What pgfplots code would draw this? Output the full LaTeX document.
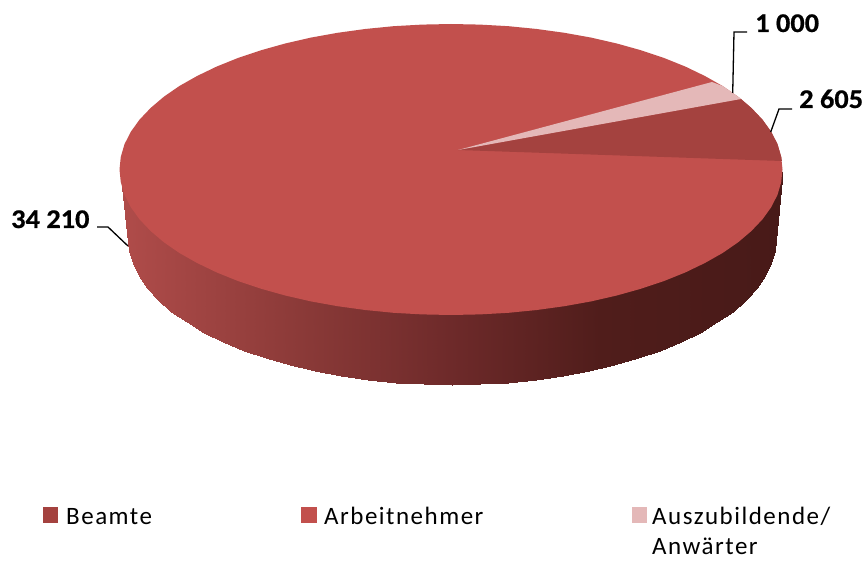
\documentclass[border=0pt]{standalone}
\usepackage{pgfplots}
\pgfplotsset{compat=1.18}
\usepackage{fontspec}
\setmainfont{Carlito}
\definecolor{topred}{RGB}{194,80,77}
\definecolor{beamte}{RGB}{164,66,63}
\definecolor{azubi}{RGB}{228,184,184}
\newcommand{\lab}{\fontsize{27}{27}\selectfont\bfseries\addfontfeature{FakeBold=0.6}}
\newcommand{\leg}{\fontsize{25}{25}\selectfont\addfontfeature{LetterSpace=6}}
\begin{document}
\begin{tikzpicture}
\begin{axis}[
    scale only axis,
    width=867pt, height=561pt,
    xmin=0, xmax=867, ymin=0, ymax=561,
    y dir=reverse,
    hide axis,
    clip=false,
    colormap={sidewall}{rgb255(0pt)=(176,76,74); rgb255(180pt)=(139,58,56); rgb255(330pt)=(110,42,42); rgb255(480pt)=(80,29,27); rgb255(660pt)=(72,26,24)},
    point meta min=120, point meta max=780,
]
% keep the page at the full canvas, hide axis drops the box otherwise
\path (axis cs:0,0) rectangle (axis cs:867,561);
% side wall, upper row runs a little under the top face
\addplot[surf, shader=interp, mesh/rows=2, point meta=x] table {
x y
119.5 169.5
120.8 178.2
124.5 190.8
130.8 203.2
139.5 215.3
150.6 227.0
163.9 238.3
179.4 249.0
197.1 259.0
216.6 268.4
237.9 277.0
260.9 284.7
285.2 291.5
310.9 297.4
337.6 302.2
365.2 306.0
393.4 308.8
422.1 310.4
451.0 311.0
479.9 310.4
508.6 308.8
536.8 306.0
564.4 302.2
591.1 297.4
616.8 291.5
641.1 284.7
664.1 277.0
685.4 268.4
704.9 259.0
722.6 249.0
738.1 238.3
751.4 227.0
762.5 215.3
771.2 203.2
777.5 190.8
781.2 178.2
782.5 169.5
128.0 238.0
129.2 250.8
132.9 263.5
139.0 276.0
147.5 288.3
158.4 300.1
171.4 311.5
186.6 322.3
203.8 332.5
222.9 341.9
243.7 350.6
266.2 358.4
290.0 365.3
315.1 371.2
341.2 376.1
368.1 380.0
395.8 382.8
423.7 384.4
452.0 385.0
480.3 384.4
508.2 382.8
535.9 380.0
562.8 376.1
588.9 371.2
614.0 365.3
637.8 358.4
660.3 350.6
681.1 341.9
700.2 332.5
717.4 322.3
732.6 311.5
745.6 300.1
756.5 288.3
765.0 276.0
771.1 263.5
774.8 250.8
776.0 238.0
};
% top face: Arbeitnehmer
\addplot[fill=topred, draw=none] coordinates {
(782.5,169.5) (781.2,156.8) (777.5,144.2) (771.2,131.8) (762.5,119.7) (751.4,108.0)
(738.1,96.7) (722.6,86.0) (704.9,76.0) (685.4,66.6) (664.1,58.0) (641.1,50.3)
(616.8,43.5) (591.1,37.6) (564.4,32.8) (536.8,29.0) (508.6,26.2) (479.9,24.6)
(451.0,24.0) (422.1,24.6) (393.4,26.2) (365.2,29.0) (337.6,32.8) (310.9,37.6)
(285.2,43.5) (260.9,50.3) (237.9,58.0) (216.6,66.6) (197.1,76.0) (179.4,86.0)
(163.9,96.7) (150.6,108.0) (139.5,119.7) (130.8,131.8) (124.5,144.2) (120.8,156.8)
(119.5,169.5) (120.8,182.2) (124.5,194.8) (130.8,207.2) (139.5,219.3) (150.6,231.0)
(163.9,242.3) (179.4,253.0) (197.1,263.0) (216.6,272.4) (237.9,281.0) (260.9,288.7)
(285.2,295.5) (310.9,301.4) (337.6,306.2) (365.2,310.0) (393.4,312.8) (422.1,314.4)
(451.0,315.0) (479.9,314.4) (508.6,312.8) (536.8,310.0) (564.4,306.2) (591.1,301.4)
(616.8,295.5) (641.1,288.7) (664.1,281.0) (685.4,272.4) (704.9,263.0) (722.6,253.0)
(738.1,242.3) (751.4,231.0) (762.5,219.3) (771.2,207.2) (777.5,194.8) (781.2,182.2)
} -- cycle;
% Beamte 2 605
\addplot[fill=beamte, draw=none] coordinates {
(458,150) (781.9,161) (781.2,156.8) (777.5,144.2) (771.2,131.8) (762.5,119.7) (751.4,108.0) (741,99)
} -- cycle;
% Auszubildende 1 000
\addplot[fill=azubi, draw=none] coordinates {
(458,150) (741,99) (738.1,96.7) (722.6,86.0) (712,82)
} -- cycle;
% leader lines
\addplot[black, line width=1.3pt] coordinates {(732.7,93) (734,32) (747,32)};
\addplot[black, line width=1.3pt] coordinates {(770.7,132) (779,109) (792,109)};
\addplot[black, line width=1.3pt] coordinates {(128,246) (108,227) (97,227)};
% legend keys
\addplot[fill=beamte, draw=none] coordinates {(43,507) (58,507) (58,523) (43,523)} -- cycle;
\addplot[fill=topred, draw=none] coordinates {(300.5,507) (317,507) (317,523) (300.5,523)} -- cycle;
\addplot[fill=azubi, draw=none] coordinates {(632,507) (647,507) (647,523) (632,523)} -- cycle;
% data labels
\node[anchor=base west, inner sep=0pt, xscale=1.05] at (axis cs:755,32) {\lab 1 000};
\node[anchor=base west, inner sep=0pt, xscale=1.05] at (axis cs:799,108) {\lab 2 605};
\node[anchor=base west, inner sep=0pt, xscale=1.05] at (axis cs:11,228) {\lab 34 210};
% legend text
\node[anchor=base west, inner sep=0pt] at (axis cs:66,524) {\leg Beamte};
\node[anchor=base west, inner sep=0pt] at (axis cs:324,524) {\leg Arbeitnehmer};
\node[anchor=base west, inner sep=0pt] at (axis cs:652,524) {\leg Auszubildende/};
\node[anchor=base west, inner sep=0pt] at (axis cs:652,554) {\leg Anwärter};
\end{axis}
\end{tikzpicture}
\end{document}
